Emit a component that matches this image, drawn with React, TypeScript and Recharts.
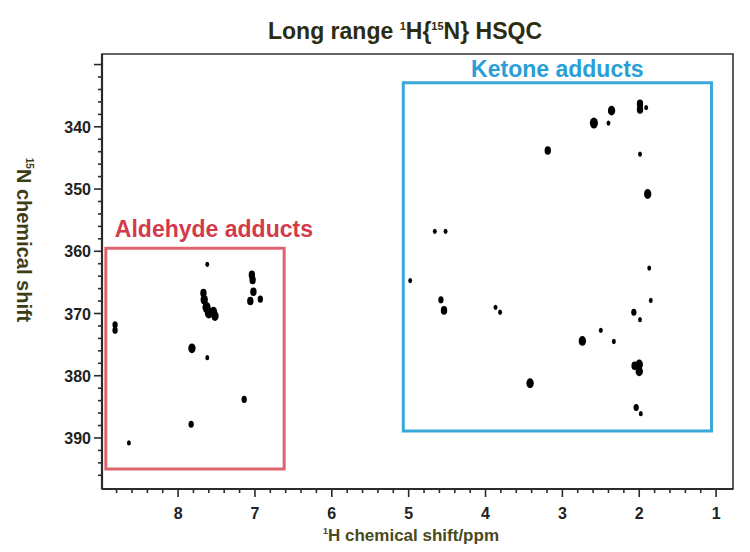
import { Label, ReferenceArea, Scatter, ScatterChart, XAxis, YAxis, ZAxis } from 'recharts';

// peaks: h = 1H shift (ppm), n = 15N shift (ppm), z = relative peak size
const aldehydePeaks = [
  { h: 7.62, n: 362.1, z: 1 },
  { h: 7.04, n: 363.8, z: 2 },
  { h: 7.03, n: 364.6, z: 2 },
  { h: 7.02, n: 366.5, z: 2 },
  { h: 7.06, n: 368.0, z: 2 },
  { h: 6.93, n: 367.7, z: 1.5 },
  { h: 7.67, n: 366.7, z: 2 },
  { h: 7.66, n: 367.8, z: 2.5 },
  { h: 7.63, n: 369.0, z: 3 },
  { h: 7.6, n: 369.9, z: 3 },
  { h: 7.54, n: 369.7, z: 2.5 },
  { h: 7.52, n: 370.4, z: 2.5 },
  { h: 8.82, n: 371.8, z: 1.5 },
  { h: 8.82, n: 372.7, z: 1.5 },
  { h: 7.82, n: 375.6, z: 2.5 },
  { h: 7.62, n: 377.1, z: 1 },
  { h: 7.14, n: 383.8, z: 1.5 },
  { h: 7.83, n: 387.8, z: 1.5 },
  { h: 8.64, n: 390.8, z: 1 },
];

const ketonePeaks = [
  { h: 1.99, n: 336.3, z: 2 },
  { h: 1.99, n: 337.2, z: 2 },
  { h: 1.91, n: 336.9, z: 1 },
  { h: 2.36, n: 337.4, z: 2.5 },
  { h: 2.59, n: 339.4, z: 3 },
  { h: 2.4, n: 339.4, z: 1 },
  { h: 3.19, n: 343.8, z: 2 },
  { h: 1.99, n: 344.4, z: 1 },
  { h: 1.89, n: 350.8, z: 2.5 },
  { h: 4.66, n: 356.8, z: 1 },
  { h: 4.52, n: 356.8, z: 1 },
  { h: 1.87, n: 362.7, z: 1 },
  { h: 4.98, n: 364.7, z: 1 },
  { h: 4.58, n: 367.8, z: 1.5 },
  { h: 4.54, n: 369.5, z: 2 },
  { h: 1.85, n: 367.9, z: 1 },
  { h: 3.87, n: 369.0, z: 1 },
  { h: 3.81, n: 369.8, z: 1 },
  { h: 2.07, n: 369.8, z: 1.5 },
  { h: 1.99, n: 371.0, z: 1 },
  { h: 2.5, n: 372.7, z: 1 },
  { h: 2.74, n: 374.4, z: 2.5 },
  { h: 2.33, n: 374.5, z: 1 },
  { h: 2.06, n: 378.4, z: 2 },
  { h: 2.0, n: 378.2, z: 2.5 },
  { h: 2.0, n: 379.3, z: 2.5 },
  { h: 3.42, n: 381.2, z: 2.5 },
  { h: 2.04, n: 385.1, z: 1.5 },
  { h: 1.98, n: 386.1, z: 1 },
];

// boxed regions [h1, h2, n1, n2]
const aldehydeBox = [8.94, 6.62, 359.5, 395.0];
const ketoneBox = [5.07, 1.06, 332.9, 388.9];

const xDomain = [0.78, 8.99];
const yDomain = [328.3, 398.2];
const xMajor = [8, 7, 6, 5, 4, 3, 2, 1];
const yMajor = [330, 340, 350, 360, 370, 380, 390];
const yLabels = [340, 350, 360, 370, 380, 390];

const xTicks: number[] = [];
for (let i = 10; i <= 88; i += 2) xTicks.push(i / 10);
const yTicks: number[] = [];
for (let v = 330; v <= 396; v += 2) yTicks.push(v);

const FONT = '"Liberation Sans", Arial, Helvetica, sans-serif';
const AXIS = '#2b2b2b';

function XTick({ x, y, payload }: any) {
  const v = Math.round(payload.value * 10) / 10;
  const major = xMajor.includes(v);
  return (
    <g>
      <line x1={x} x2={x} y1={y} y2={y + (major ? 8 : 4)} stroke={AXIS} strokeWidth={1.6} />
      {major && (
        <text x={x} y={y + 30} textAnchor="middle" fontSize={16} fontWeight="bold" fill="#222" fontFamily={FONT}>
          {v}
        </text>
      )}
    </g>
  );
}

function YTick({ x, y, payload }: any) {
  const v = payload.value;
  const major = yMajor.includes(v);
  return (
    <g>
      <line x1={x} x2={x - (major ? 8 : 4)} y1={y} y2={y} stroke={AXIS} strokeWidth={1.6} />
      {yLabels.includes(v) && (
        <text x={x - 11} y={y + 6} textAnchor="end" fontSize={16} fontWeight="bold" fill="#222" fontFamily={FONT}>
          {v}
        </text>
      )}
    </g>
  );
}

function Peak(props: any) {
  const { cx, cy, width } = props;
  const r = (width ?? 5) / 2;
  return <ellipse cx={cx} cy={cy} rx={r} ry={r * 1.35} fill="#000" />;
}

export default function App() {
  return (
    <div style={{ position: 'absolute', left: 0, top: 0, width: 750, height: 552, background: '#fff' }}>
      <div
        style={{
          position: 'absolute',
          left: 0,
          top: 13,
          width: 810,
          textAlign: 'center',
          fontFamily: FONT,
          fontWeight: 'bold',
          fontSize: 23,
          color: '#2c2c12',
          lineHeight: '26px',
        }}
      >
        Long range <sup style={{ fontSize: 11 }}>1</sup>H{'{'}
        <sup style={{ fontSize: 11 }}>15</sup>N{'}'} HSQC
      </div>
      <ScatterChart width={750} height={552} margin={{ top: 54, right: 17, bottom: 0, left: 40 }}>
        <XAxis
          type="number"
          dataKey="h"
          domain={xDomain}
          reversed
          allowDataOverflow
          ticks={xTicks}
          interval={0}
          tickSize={0}
          tickMargin={0}
          tick={<XTick />}
          height={63}
          axisLine={{ stroke: AXIS, strokeWidth: 2.2 }}
          tickLine={false}
        >
          <Label
            content={() => (
              <text x={411} y={541} textAnchor="middle" fontSize={17} fontWeight="bold" fill="#4a4a1c" fontFamily={FONT}>
                <tspan fontSize={9} dy={-7}>1</tspan>
                <tspan dy={7}>H chemical shift/ppm</tspan>
              </text>
            )}
          />
        </XAxis>
        <YAxis
          type="number"
          dataKey="n"
          domain={yDomain}
          reversed
          allowDataOverflow
          ticks={yTicks}
          interval={0}
          tickSize={0}
          tickMargin={0}
          tick={<YTick />}
          width={62}
          axisLine={{ stroke: AXIS, strokeWidth: 2.2 }}
          tickLine={false}
        >
          <Label
            content={() => (
              <text
                x={22}
                y={240}
                transform="rotate(90 22 240)"
                textAnchor="middle"
                dominantBaseline="middle"
                fontSize={20}
                fontWeight="bold"
                fill="#3e3e16"
                fontFamily={FONT}
              >
                <tspan fontSize={10} dy={-7}>15</tspan>
                <tspan dy={7}>N chemical shift</tspan>
              </text>
            )}
          />
        </YAxis>
        <ZAxis type="number" dataKey="z" domain={[1, 3]} range={[12, 52]} />
        <ReferenceArea
          x1={xDomain[1]}
          x2={xDomain[0]}
          y1={yDomain[0]}
          y2={yDomain[1]}
          fill="none"
          stroke="#333"
          strokeWidth={1.6}
          ifOverflow="visible"
        />
        <ReferenceArea
          x1={aldehydeBox[0]}
          x2={aldehydeBox[1]}
          y1={aldehydeBox[2]}
          y2={aldehydeBox[3]}
          fill="none"
          stroke="#de6470"
          strokeWidth={3}
          ifOverflow="visible"
        >
          <Label
            content={(p: any) => (
              <text x={p.viewBox.x + 9} y={p.viewBox.y - 11} fontSize={23} fontWeight="bold" fill="#d33a4b" fontFamily={FONT}>
                Aldehyde adducts
              </text>
            )}
          />
        </ReferenceArea>
        <ReferenceArea
          x1={ketoneBox[0]}
          x2={ketoneBox[1]}
          y1={ketoneBox[2]}
          y2={ketoneBox[3]}
          fill="none"
          stroke="#3aa8d8"
          strokeWidth={3}
          ifOverflow="visible"
        >
          <Label
            content={(p: any) => (
              <text
                x={p.viewBox.x + p.viewBox.width / 2}
                y={p.viewBox.y - 6}
                textAnchor="middle"
                fontSize={23}
                fontWeight="bold"
                fill="#2a9ed6"
                fontFamily={FONT}
              >
                Ketone adducts
              </text>
            )}
          />
        </ReferenceArea>
        <Scatter data={aldehydePeaks} fill="#000" shape={<Peak />} isAnimationActive={false} />
        <Scatter data={ketonePeaks} fill="#000" shape={<Peak />} isAnimationActive={false} />
      </ScatterChart>
    </div>
  );
}
